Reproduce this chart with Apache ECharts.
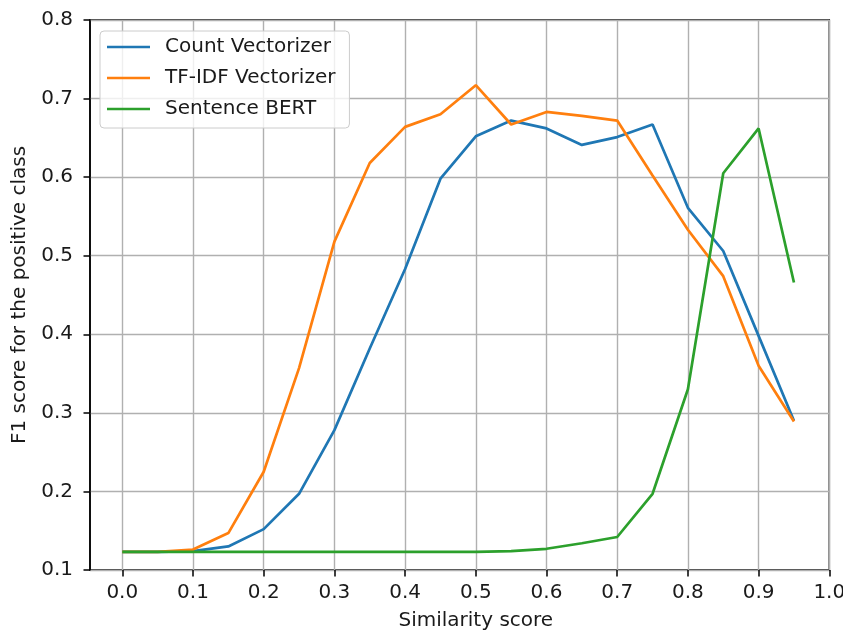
<!DOCTYPE html>
<html>
<head>
<meta charset="utf-8">
<script src="https://cdn.jsdelivr.net/npm/echarts@6/dist/echarts.min.js"></script>
<style>
  html, body { margin: 0; padding: 0; background: #fff; }
  #chart { width: 843px; height: 633px; }
</style>
</head>
<body>
<div id="chart"></div>
<script>
// similarity thresholds
var thresholds = [0.0, 0.05, 0.1, 0.15, 0.2, 0.25, 0.3, 0.35, 0.4, 0.45,
                  0.5, 0.55, 0.6, 0.65, 0.7, 0.75, 0.8, 0.85, 0.9, 0.95];

var countVec = [0.123, 0.123, 0.124, 0.130, 0.152, 0.197, 0.278, 0.382, 0.483, 0.598,
                0.652, 0.672, 0.662, 0.641, 0.651, 0.667, 0.561, 0.506, 0.398, 0.290];
var tfidfVec = [0.123, 0.123, 0.126, 0.147, 0.225, 0.357, 0.518, 0.618, 0.664, 0.680,
                0.717, 0.667, 0.683, 0.678, 0.672, 0.602, 0.533, 0.474, 0.360, 0.289];
var sbert    = [0.123, 0.123, 0.123, 0.123, 0.123, 0.123, 0.123, 0.123, 0.123, 0.123,
                0.123, 0.124, 0.127, 0.134, 0.142, 0.197, 0.330, 0.605, 0.662, 0.466];

var seriesNames = ['Count Vectorizer', 'TF-IDF Vectorizer', 'Sentence BERT'];
var seriesColors = ['#1f77b4', '#ff7f0e', '#2ca02c'];

var chart = echarts.init(document.getElementById('chart'));
var font = 'DejaVu Sans, sans-serif';
var txt = '#1a1a1a';
var fs = 20;

function pairs(ys) {
    return thresholds.map(function (x, i) { return [x, ys[i]]; });
}

function makeSeries(name, ys, color) {
    return {
        name: name,
        type: 'line',
        xAxisIndex: 0,
        yAxisIndex: 0,
        data: pairs(ys),
        symbol: 'none',
        lineStyle: { color: color, width: 2.7 },
        itemStyle: { color: color },
        animation: false
    };
}

chart.setOption({
    backgroundColor: '#fff',
    // grid 0: data area (x 0..1), grid 1: full axes frame incl. left margin
    grid: [
        { left: 122.3, right: 13.7, top: 20, bottom: 63, outerBoundsMode: 'none', containLabel: false },
        {
            left: 90, right: 13.7, top: 20, bottom: 63,
            outerBoundsMode: 'none', containLabel: false,
            show: true, borderColor: '#000', borderWidth: 1.5,
            backgroundColor: 'transparent'
        }
    ],
    legend: {
        data: seriesNames,
        orient: 'vertical',
        left: 100,
        top: 31,
        itemGap: 11,
        itemWidth: 43,
        itemHeight: 2.7,
        icon: 'rect',
        padding: [6, 14, 9, 7],
        backgroundColor: 'rgba(255,255,255,0.8)',
        borderColor: '#cccccc',
        borderWidth: 1,
        borderRadius: 4,
        textStyle: { fontFamily: font, fontSize: fs, lineHeight: 20, color: txt, padding: [0, 0, 0, 10] }
    },
    xAxis: [
        {
            gridIndex: 0,
            type: 'value',
            min: 0,
            max: 1.0,
            interval: 0.1,
            name: 'Similarity score',
            nameLocation: 'middle',
            nameGap: 41,
            nameTextStyle: { fontFamily: font, fontSize: fs, color: txt },
            axisLine: { show: false },
            axisTick: { show: true, length: 6.5, lineStyle: { color: '#000', width: 1.5 } },
            axisLabel: {
                fontFamily: font, fontSize: fs, color: txt, margin: 13,
                formatter: function (v) { return v.toFixed(1); }
            },
            splitLine: { show: true, lineStyle: { color: '#b0b0b0', width: 1.4 } }
        },
        {
            gridIndex: 1,
            type: 'value',
            min: -0.0457,
            max: 1.0,
            show: false
        }
    ],
    yAxis: [
        {
            gridIndex: 0,
            type: 'value',
            min: 0.1,
            max: 0.8,
            interval: 0.1,
            show: false
        },
        {
            gridIndex: 1,
            type: 'value',
            min: 0.1,
            max: 0.8,
            interval: 0.1,
            name: 'F1 score for the positive class',
            nameLocation: 'middle',
            nameGap: 59,
            nameTextStyle: { fontFamily: font, fontSize: fs, color: txt },
            axisLine: { show: true, onZero: false, lineStyle: { color: '#000', width: 1.5 } },
            axisTick: { show: true, length: 6.5, lineStyle: { color: '#000', width: 1.5 } },
            axisLabel: {
                fontFamily: font, fontSize: fs, color: txt, margin: 17,
                formatter: function (v) { return v.toFixed(1); }
            },
            splitLine: { show: true, lineStyle: { color: '#b0b0b0', width: 1.4 } }
        }
    ],
    series: [
        makeSeries(seriesNames[0], countVec, seriesColors[0]),
        makeSeries(seriesNames[1], tfidfVec, seriesColors[1]),
        makeSeries(seriesNames[2], sbert, seriesColors[2])
    ]
});
</script>
</body>
</html>
